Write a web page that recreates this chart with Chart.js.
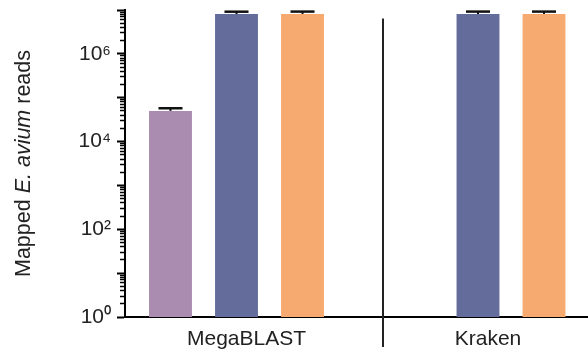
<!DOCTYPE html>
<html>
<head>
<meta charset="utf-8">
<script src="https://cdn.jsdelivr.net/npm/chart.js@4.4.0/dist/chart.umd.min.js"></script>
<style>
  html, body { margin: 0; padding: 0; background: #fff; overflow: hidden; }
  #contenedor { width: 588px; height: 351px; }
</style>
</head>
<body>
<div id="contenedor"><canvas id="grafico"></canvas></div>
<script>
// Datos del gráfico
const grupos = ['MegaBLAST', 'Kraken'];
const serieMorada = [50000, null];
const serieAzul = [8100000, 8100000];
const serieNaranja = [8100000, 8100000];
// Error superior de cada barra
const errorMorada = [7500, null];
const errorAzul = [1050000, 1100000];
const errorNaranja = [1100000, 1100000];
// Etiquetas del eje Y
const yTickValores = [1, 100, 10000, 1000000];
const yTickEtiquetas = ['10⁰', '10²', '10⁴', '10⁶'];
const tituloY = ['Mapped ', 'E. avium', ' reads'];
// Separador entre grupos (en unidades de los ejes)
const separadorX = 0.607;
const separadorArriba = 6400000;

const fuente = "'Liberation Sans', Arial, sans-serif";
Chart.defaults.font.family = fuente;
Chart.defaults.color = '#222';

function esDecada(v) {
    const l = Math.log10(v);
    return Math.abs(l - Math.round(l)) < 1e-9;
}

// Barras de error (solo hacia arriba)
const barrasError = {
    id: 'barrasError',
    afterDatasetsDraw(chart) {
        const ctx = chart.ctx;
        const y = chart.scales.y;
        chart.data.datasets.forEach((ds, i) => {
            const meta = chart.getDatasetMeta(i);
            meta.data.forEach((barra, j) => {
                if (ds.data[j] == null || ds.error[j] == null) return;
                const tope = y.getPixelForValue(ds.data[j] + ds.error[j]);
                const medio = barra.width * 0.28;
                ctx.save();
                ctx.strokeStyle = '#111';
                ctx.lineWidth = 2;
                ctx.beginPath();
                ctx.moveTo(barra.x, barra.y);
                ctx.lineTo(barra.x, tope);
                ctx.stroke();
                ctx.lineWidth = 2.5;
                ctx.beginPath();
                ctx.moveTo(barra.x - medio, tope);
                ctx.lineTo(barra.x + medio, tope);
                ctx.stroke();
                ctx.restore();
            });
        });
    }
};

// Línea vertical que separa los grupos
const separador = {
    id: 'separador',
    afterDraw(chart) {
        const ctx = chart.ctx;
        const px = Math.round(chart.scales.x.getPixelForValue(separadorX));
        const arriba = chart.scales.y.getPixelForValue(separadorArriba);
        ctx.save();
        ctx.strokeStyle = '#222';
        ctx.lineWidth = 2;
        ctx.beginPath();
        ctx.moveTo(px, arriba);
        ctx.lineTo(px, chart.chartArea.bottom + 30);
        ctx.stroke();
        ctx.restore();
    }
};

// Título del eje Y con parte en cursiva
const tituloEjeY = {
    id: 'tituloEjeY',
    afterDraw(chart) {
        const ctx = chart.ctx;
        const area = chart.chartArea;
        const estilos = ['normal', 'italic', 'normal'];
        const tam = 21.5;
        ctx.save();
        ctx.fillStyle = '#222';
        let total = 0;
        const anchos = tituloY.map((t, k) => {
            ctx.font = estilos[k] + ' ' + tam + 'px ' + fuente;
            const w = ctx.measureText(t).width;
            total += w;
            return w;
        });
        ctx.translate(24, (area.top + area.bottom) / 2);
        ctx.rotate(-Math.PI / 2);
        ctx.textBaseline = 'middle';
        let x = -total / 2;
        tituloY.forEach((t, k) => {
            ctx.font = estilos[k] + ' ' + tam + 'px ' + fuente;
            ctx.fillText(t, x, 0);
            x += anchos[k];
        });
        ctx.restore();
    }
};

new Chart(document.getElementById('grafico').getContext('2d'), {
    type: 'bar',
    data: {
        labels: grupos.map((g, i) => i),
        datasets: [
            { label: 'A', data: serieMorada, error: errorMorada, backgroundColor: '#a98cb0' },
            { label: 'B', data: serieAzul, error: errorAzul, backgroundColor: '#646c9b' },
            { label: 'C', data: serieNaranja, error: errorNaranja, backgroundColor: '#f7aa6f' }
        ]
    },
    options: {
        responsive: true,
        maintainAspectRatio: false,
        animation: false,
        categoryPercentage: 0.82,
        barPercentage: 0.65,
        layout: { padding: 0 },
        plugins: {
            legend: { display: false },
            tooltip: { enabled: false }
        },
        scales: {
            x: {
                type: 'linear',
                min: -0.4617,
                max: 1.4555,
                offset: false,
                afterBuildTicks: axis => { axis.ticks = grupos.map((g, i) => ({ value: i })); },
                afterFit: axis => { axis.height = 34; },
                grid: { display: false, drawTicks: false },
                border: { color: '#000', width: 2 },
                ticks: {
                    callback: (v, i) => grupos[i],
                    labelOffset: 10,
                    padding: 10,
                    maxRotation: 0,
                    font: { size: 21 }
                }
            },
            y: {
                type: 'logarithmic',
                min: 1,
                max: 10000000,
                afterBuildTicks: axis => {
                    const t = [];
                    for (let e = 0; e < 7; e++) {
                        for (let m = 1; m < 10; m++) t.push({ value: m * Math.pow(10, e) });
                    }
                    t.push({ value: 10000000 });
                    axis.ticks = t;
                },
                afterFit: axis => {
                    axis.width = 125;
                    axis.paddingTop = 10;
                    axis.paddingBottom = 0;
                },
                border: { color: '#000', width: 2 },
                grid: {
                    display: true,
                    drawOnChartArea: false,
                    drawTicks: true,
                    tickLength: 8,
                    tickColor: '#000',
                    tickWidth: c => esDecada(c.tick.value) ? 2 : 1.5,
                    tickBorderDash: c => esDecada(c.tick.value) ? [] : [5, 3],
                    tickBorderDashOffset: c => esDecada(c.tick.value) ? 0 : 5
                },
                ticks: {
                    autoSkip: false,
                    padding: 6,
                    font: { size: 21 },
                    callback: v => {
                        const k = yTickValores.indexOf(v);
                        return k >= 0 ? yTickEtiquetas[k] : '';
                    }
                }
            }
        }
    },
    plugins: [barrasError, separador, tituloEjeY]
});
</script>
</body>
</html>
